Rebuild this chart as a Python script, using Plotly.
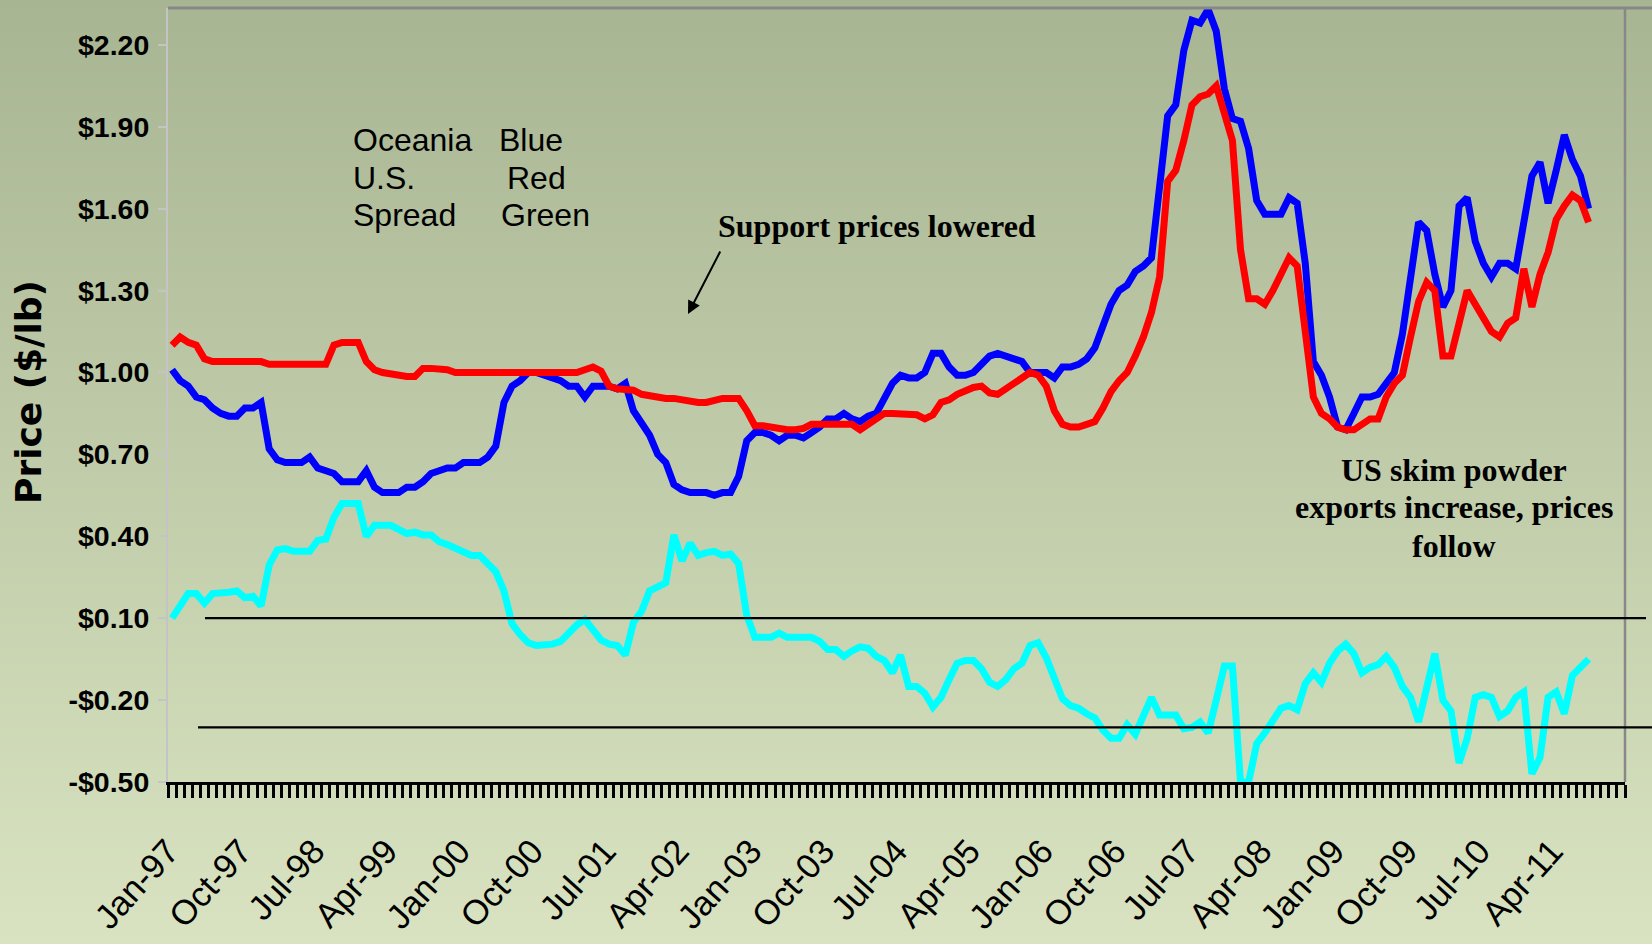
import plotly.graph_objects as go

# ---------------- data ----------------
month_names = ["Jan", "Feb", "Mar", "Apr", "May", "Jun", "Jul", "Aug", "Sep", "Oct", "Nov", "Dec"]
years = list(range(1997, 2012))
months = [f"{m}-{y % 100:02d}" for y in years for m in month_names]   # Jan-97 .. Dec-11 (180 categories)
label_step = 9

oceania = [
    1.01, 0.97, 0.95, 0.91, 0.90, 0.87, 0.85, 0.84, 0.84, 0.87,
    0.87, 0.89, 0.72, 0.68, 0.67, 0.67, 0.67, 0.69, 0.65, 0.64,
    0.63, 0.60, 0.60, 0.60, 0.64, 0.58, 0.56, 0.56, 0.56, 0.58,
    0.58, 0.60, 0.63, 0.64, 0.65, 0.65, 0.67, 0.67, 0.67, 0.69,
    0.73, 0.89, 0.95, 0.97, 1.00, 1.00, 0.99, 0.98, 0.97, 0.95,
    0.95, 0.91, 0.95, 0.95, 0.95, 0.94, 0.96, 0.86, 0.81, 0.77,
    0.70, 0.67, 0.59, 0.57, 0.56, 0.56, 0.56, 0.55, 0.56, 0.56,
    0.62, 0.75, 0.78, 0.78, 0.77, 0.75, 0.77, 0.77, 0.76, 0.78,
    0.80, 0.83, 0.83, 0.85, 0.83, 0.82, 0.84, 0.85, 0.91, 0.96,
    0.99, 0.98, 0.98, 1.00, 1.07, 1.07, 1.02, 0.99, 0.99, 1.00,
    1.03, 1.06, 1.07, 1.06, 1.05, 1.04, 1.00, 1.00, 1.00, 0.98,
    1.02, 1.02, 1.03, 1.05, 1.09, 1.17, 1.25, 1.30, 1.32, 1.37,
    1.39, 1.42, 1.68, 1.94, 1.98, 2.18, 2.29, 2.28, 2.33, 2.25,
    2.04, 1.93, 1.92, 1.82, 1.63, 1.58, 1.58, 1.58, 1.64, 1.62,
    1.40, 1.04, 0.99, 0.91, 0.80, 0.79, 0.85, 0.91, 0.91, 0.92,
    0.96, 1.00, 1.14, 1.33, 1.55, 1.52, 1.36, 1.24, 1.30, 1.61,
    1.64, 1.48, 1.40, 1.35, 1.40, 1.40, 1.38, 1.55, 1.72, 1.77,
    1.62, 1.74, 1.87, 1.78, 1.72, 1.60,
]

us = [
    1.10, 1.13, 1.11, 1.10, 1.05, 1.04, 1.04, 1.04, 1.04, 1.04,
    1.04, 1.04, 1.03, 1.03, 1.03, 1.03, 1.03, 1.03, 1.03, 1.03,
    1.10, 1.11, 1.11, 1.11, 1.04, 1.01, 1.00, 0.995, 0.985, 0.985,
    0.985, 1.015, 1.015, 1.015, 1.01, 1.00, 1.00, 1.00, 1.00, 1.00,
    1.00, 1.00, 1.00, 1.00, 1.00, 1.00, 1.00, 1.00, 1.00, 1.00,
    1.00, 1.01, 1.02, 1.005, 0.95, 0.94, 0.94, 0.935, 0.92, 0.915,
    0.905, 0.905, 0.905, 0.90, 0.89, 0.89, 0.89, 0.90, 0.905, 0.905,
    0.905, 0.86, 0.805, 0.805, 0.80, 0.79, 0.79, 0.79, 0.795, 0.81,
    0.81, 0.81, 0.81, 0.81, 0.81, 0.79, 0.81, 0.825, 0.85, 0.85,
    0.85, 0.85, 0.845, 0.83, 0.845, 0.89, 0.90, 0.92, 0.935, 0.945,
    0.95, 0.925, 0.92, 0.94, 0.965, 0.98, 1.00, 0.99, 0.95, 0.86,
    0.81, 0.80, 0.80, 0.81, 0.82, 0.87, 0.93, 0.97, 1.00, 1.06,
    1.13, 1.22, 1.35, 1.70, 1.74, 1.85, 1.98, 2.01, 2.02, 2.05,
    1.94, 1.85, 1.45, 1.27, 1.27, 1.25, 1.30, 1.36, 1.42, 1.39,
    1.15, 0.91, 0.85, 0.83, 0.80, 0.79, 0.79, 0.81, 0.83, 0.83,
    0.91, 0.96, 0.99, 1.13, 1.26, 1.33, 1.30, 1.06, 1.06, 1.18,
    1.30, 1.25, 1.20, 1.15, 1.13, 1.18, 1.20, 1.38, 1.24, 1.36,
    1.44, 1.56, 1.61, 1.65, 1.63, 1.55,
]

spread = [
    0.10, 0.14, 0.19, 0.19, 0.155, 0.19, 0.19, 0.195, 0.20, 0.175,
    0.18, 0.145, 0.295, 0.35, 0.355, 0.345, 0.345, 0.345, 0.385, 0.39,
    0.47, 0.52, 0.52, 0.52, 0.40, 0.44, 0.44, 0.44, 0.425, 0.41,
    0.415, 0.405, 0.405, 0.38, 0.37, 0.355, 0.345, 0.33, 0.33, 0.30,
    0.27, 0.20, 0.08, 0.04, 0.01, 0.00, 0.00, 0.005, 0.015, 0.045,
    0.075, 0.095, 0.06, 0.02, 0.005, 0.00, -0.035, 0.085, 0.125, 0.20,
    0.215, 0.23, 0.405, 0.31, 0.375, 0.33, 0.34, 0.345, 0.33, 0.335,
    0.30, 0.11, 0.03, 0.03, 0.03, 0.045, 0.03, 0.03, 0.03, 0.03,
    0.015, -0.015, -0.015, -0.04, -0.02, -0.005, -0.01, -0.04, -0.055, -0.10,
    -0.035, -0.15, -0.15, -0.175, -0.225, -0.19, -0.125, -0.065, -0.055, -0.055,
    -0.085, -0.135, -0.15, -0.125, -0.085, -0.065, 0.00, 0.01, -0.045, -0.12,
    -0.195, -0.22, -0.23, -0.25, -0.265, -0.31, -0.34, -0.34, -0.29, -0.325,
    -0.25, -0.19, -0.255, -0.255, -0.255, -0.305, -0.30, -0.28, -0.32, -0.20,
    -0.075, -0.075, -0.50, -0.50, -0.36, -0.32, -0.27, -0.23, -0.22, -0.235,
    -0.14, -0.10, -0.135, -0.065, -0.02, 0.005, -0.03, -0.10, -0.08, -0.07,
    -0.04, -0.08, -0.15, -0.19, -0.28, -0.16, -0.03, -0.20, -0.24, -0.43,
    -0.34, -0.19, -0.18, -0.19, -0.26, -0.24, -0.19, -0.17, -0.47, -0.41,
    -0.19, -0.17, -0.25, -0.11, -0.08, -0.05,
]

y_tick_vals = [-0.50, -0.20, 0.10, 0.40, 0.70, 1.00, 1.30, 1.60, 1.90, 2.20]
y_tick_text = ["-$0.50", "-$0.20", "$0.10", "$0.40", "$0.70", "$1.00", "$1.30", "$1.60", "$1.90", "$2.20"]
band_levels = [0.10, -0.30]   # the two black horizontal reference lines

# ---------------- layout geometry ----------------
W, H = 1652, 944
PL, PR, PT, PB = 168, 1625, 8, 782


def xp(px):
    return (px - PL) / (PR - PL)


def yp(py):
    return (PB - py) / (PB - PT)


idx = list(range(len(months)))
x_oce = idx[:len(oceania)]
x_us = idx[:len(us)]
x_sp = idx[:len(spread)]
label_shift = -0.5          # labels sit at the left tick boundary of their month
label_pos = [i + label_shift for i in idx[::label_step]]
label_txt = months[::label_step]
boundaries = [i - 0.5 for i in range(len(months) + 1)]

fig = go.Figure()
fig.add_trace(go.Scatter(x=x_oce, y=oceania, mode="lines", name="Oceania",
                         line=dict(color="#0000ff", width=7)))
fig.add_trace(go.Scatter(x=x_us, y=us, mode="lines", name="U.S.",
                         line=dict(color="#ff0000", width=7)))
fig.add_trace(go.Scatter(x=x_sp, y=spread, mode="lines", name="Spread", xaxis="x2",
                         line=dict(color="#00ffff", width=7)))

# background gradient (bands)
shapes = []
top_c = (168, 181, 146)
bot_c = (217, 227, 193)
nb = 118
for k in range(nb):
    t = (k + 0.5) / nb
    c = tuple(round(top_c[j] + (bot_c[j] - top_c[j]) * t) for j in range(3))
    shapes.append(dict(type="rect", xref="paper", yref="paper", layer="below",
                       x0=xp(0), x1=xp(W), y0=yp(k * H / nb), y1=yp((k + 1) * H / nb) - 0.0005,
                       fillcolor=f"rgb{c}", line=dict(width=0)))
# plot border (top / right)
shapes.append(dict(type="line", xref="paper", yref="paper", x0=0, x1=xp(W), y0=1, y1=1,
                   line=dict(color="#888888", width=3)))
shapes.append(dict(type="line", xref="paper", yref="paper", x0=1, x1=1, y0=0, y1=1,
                   line=dict(color="#888888", width=2.5)))
# reference lines
shapes.append(dict(type="line", xref="paper", yref="y", x0=xp(205), x1=xp(1646),
                   y0=band_levels[0], y1=band_levels[0], line=dict(color="black", width=2.2)))
shapes.append(dict(type="line", xref="paper", yref="y", x0=xp(198), x1=xp(W),
                   y0=band_levels[1], y1=band_levels[1], line=dict(color="black", width=2.2)))

SANS = "Liberation Sans, Arial, sans-serif"
SERIF = "Liberation Serif, Times New Roman, serif"


def ann(text, x_px, base_px, size, family, anchor="left", bold=False):
    return dict(text=text, xref="paper", yref="paper", x=xp(x_px), y=yp(base_px - 0.32 * size),
                xanchor=anchor, yanchor="middle", showarrow=False,
                font=dict(family=family, size=size, color="black", weight="bold" if bold else "normal"))


annotations = [
    ann("Oceania", 351, 150.5, 32, SANS),
    ann("Blue", 497, 150.5, 32, SANS),
    ann("U.S.", 351, 188, 32, SANS),
    ann("Red", 505, 188, 32, SANS),
    ann("Spread", 351, 225.5, 32, SANS),
    ann("Green", 499, 225.5, 32, SANS),
    ann("Support prices lowered", 877, 236, 32, SERIF, anchor="center", bold=True),
    ann("US skim powder", 1454, 480, 32, SERIF, anchor="center", bold=True),
    ann("exports increase, prices", 1454, 517, 32, SERIF, anchor="center", bold=True),
    ann("follow", 1454, 556, 32, SERIF, anchor="center", bold=True),
    dict(text="", xref="paper", yref="paper", x=xp(688), y=yp(314), showarrow=True,
         axref="pixel", ayref="pixel", ax=33, ay=-64, arrowhead=2, arrowsize=1.3,
         arrowwidth=2, arrowcolor="black", standoff=0, startstandoff=0),
    dict(text="Price ($/lb)", xref="paper", yref="paper", x=xp(28), y=yp(392), textangle=-90,
         showarrow=False, xanchor="center", yanchor="middle",
         font=dict(family="DejaVu Sans, Verdana, sans-serif", size=36, color="black", weight="bold")),
]

fig.update_layout(
    width=W, height=H,
    margin=dict(l=PL, r=W - PR, t=PT, b=H - PB, pad=0, autoexpand=False),
    paper_bgcolor="rgb(192,204,170)",
    plot_bgcolor="rgba(0,0,0,0)",
    showlegend=False,
    shapes=shapes,
    annotations=annotations,
    xaxis=dict(range=[-0.5, len(months) - 0.5], tickmode="array", tickvals=boundaries,
               showticklabels=False, ticks="outside", ticklen=13, tickwidth=2.5, tickcolor="black",
               showline=True, linecolor="black", linewidth=3, showgrid=False, zeroline=False,
               automargin=False),
    xaxis2=dict(overlaying="x", anchor="y", side="bottom", range=[-0.5, len(months) - 0.5],
                tickmode="array", tickvals=label_pos, ticktext=label_txt, ticks="",
                showline=False, showgrid=False, zeroline=False, tickangle=-48, automargin=False,
                ticklabelstandoff=41, tickfont=dict(family=SANS, size=34.5, color="black")),
    yaxis=dict(range=[-0.5, 2.335], tickmode="array", tickvals=y_tick_vals, ticktext=y_tick_text,
               ticks="outside", ticklen=8, tickwidth=2, tickcolor="#c4c4c4",
               showline=True, linecolor="#c4c4c4", linewidth=2, showgrid=False, zeroline=False,
               ticklabelstandoff=3, automargin=False,
               tickfont=dict(family=SANS, size=28.5, color="black", weight="bold")),
)

fig.write_html("out.html",
               config={"displayModeBar": False},
               post_script="document.body.style.margin='0px';document.body.style.overflow='hidden';"
                           "document.body.style.background='rgb(217,227,193)';")
